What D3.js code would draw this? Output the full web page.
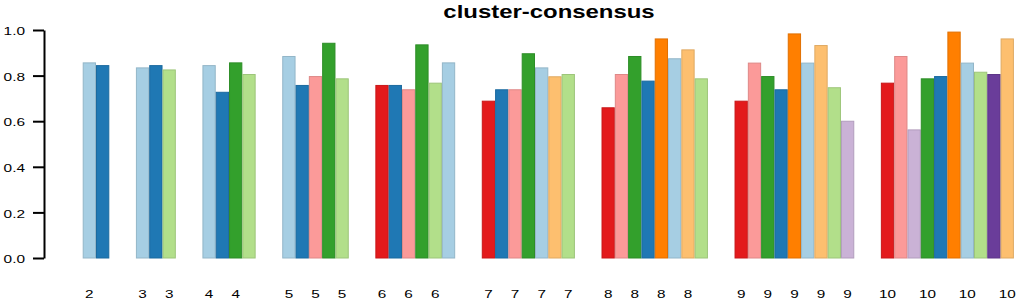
<!DOCTYPE html>
<html>
<head>
<meta charset="utf-8">
<script src="https://cdn.jsdelivr.net/npm/d3@7"></script>
<style>
  body { margin: 0; background: #fff; }
  text { font-family: "Liberation Sans", Arial, sans-serif; }
</style>
</head>
<body>
<div id="chart"></div>
<script>
// number of clusters k, one group of bars per k
let ks = [2, 3, 4, 5, 6, 7, 8, 9, 10]

// consensus of each cluster
let consensus2 = [0.858, 0.846]
let consensus3 = [0.836, 0.846, 0.827]
let consensus4 = [0.846, 0.729, 0.858, 0.807]
let consensus5 = [0.886, 0.759, 0.798, 0.944, 0.788]
let consensus6 = [0.759, 0.759, 0.740, 0.937, 0.769, 0.858]
let consensus7 = [0.690, 0.740, 0.740, 0.898, 0.836, 0.797, 0.807]
let consensus8 = [0.661, 0.807, 0.886, 0.778, 0.963, 0.876, 0.915, 0.788]
let consensus9 = [0.690, 0.857, 0.798, 0.740, 0.985, 0.857, 0.934, 0.749, 0.602]
let consensus10 = [0.769, 0.886, 0.564, 0.788, 0.798, 0.993, 0.857, 0.817, 0.807, 0.963]

// colour name of each cluster bar
let colors2 = ["lblue", "blue"]
let colors3 = ["lblue", "blue", "lgreen"]
let colors4 = ["lblue", "blue", "green", "lgreen"]
let colors5 = ["lblue", "blue", "pink", "green", "lgreen"]
let colors6 = ["red", "blue", "pink", "green", "lgreen", "lblue"]
let colors7 = ["red", "blue", "pink", "green", "lblue", "lorange", "lgreen"]
let colors8 = ["red", "pink", "green", "blue", "orange", "lblue", "lorange", "lgreen"]
let colors9 = ["red", "pink", "green", "blue", "orange", "lblue", "lorange", "lgreen", "lpurple"]
let colors10 = ["red", "pink", "lpurple", "green", "blue", "orange", "lblue", "lgreen", "purple", "lorange"]

let yTicks = [0, 0.2, 0.4, 0.6, 0.8, 1.0]

let allValues = [consensus2, consensus3, consensus4, consensus5, consensus6,
                 consensus7, consensus8, consensus9, consensus10]
let allColors = [colors2, colors3, colors4, colors5, colors6,
                 colors7, colors8, colors9, colors10]

let palette = d3.scaleOrdinal()
  .domain(["lblue", "blue", "lgreen", "green", "pink", "red", "lorange", "orange", "lpurple", "purple"])
  .range(["#a6cee3", "#1f78b4", "#b2df8a", "#33a02c", "#fb9a99", "#e31a1c", "#fdbf6f", "#ff7f00", "#cab2d6", "#6a3d9a"])

let width = 1021, height = 305
let stretch = 1.33  // the picture is wider than tall, text is stretched too

// flatten into bars, two empty bar slots before each group (like R barplot space)
let bars = []
let pos = 0
ks.forEach(function(k, gi) {
  pos += 2
  allValues[gi].forEach(function(v, i) {
    bars.push({k: k, value: v, color: allColors[gi][i], u: pos})
    pos += 1
  })
})

let svg = d3.select("#chart").append("svg")
  .attr("width", width)
  .attr("height", height)
  .style("background-color", "#FFFFFF")

let x = d3.scaleLinear().domain([0, pos]).range([56.1, 1013.9])
let y = d3.scaleLinear().domain([0, 1]).range([258, 30])
let barW = x(1) - x(0)

// bars
svg.append("g")
  .selectAll("rect")
  .data(bars)
  .enter().append("rect")
    .attr("x", function(d) { return x(d.u) + 0.5 })
    .attr("y", function(d) { return y(d.value) + 0.5 })
    .attr("width", barW - 1)
    .attr("height", function(d) { return y(0) - y(d.value) - 0.5 })
    .attr("fill", function(d) { return palette(d.color) })
    .attr("stroke", function(d) { return d3.color(palette(d.color)).darker(0.35) })
    .attr("stroke-width", 1)

// y axis
let yAxis = svg.append("g")
  .attr("transform", "translate(44,0)")
  .call(d3.axisLeft(y).tickValues(yTicks).tickSize(11).tickSizeOuter(0)
    .tickFormat(d3.format(".1f")))
yAxis.select(".domain").attr("stroke", "#000").attr("stroke-width", 2)
yAxis.selectAll(".tick line").attr("stroke", "#000").attr("stroke-width", 2)
yAxis.selectAll(".tick text")
  .attr("x", -19 / stretch)
  .attr("dy", "0.4em")
  .attr("transform", "scale(" + stretch + ",1)")
  .attr("fill", "#000")
  .style("font-size", "11.6px")

// x labels under bars, skipping the ones that would overlap (as R does)
let lastRight = -Infinity
let labelGap = 15
let xLabels = svg.append("g")
bars.forEach(function(d) {
  let cx = x(d.u + 0.5)
  let t = xLabels.append("text")
    .attr("text-anchor", "middle")
    .attr("transform", "translate(" + cx + ",298) scale(" + stretch + ",1)")
    .style("font-size", "11.5px")
    .attr("fill", "#000")
    .text(d.k)
  let w = t.node().getComputedTextLength() * stretch
  if (cx - w / 2 < lastRight + labelGap) {
    t.remove()
  } else {
    lastRight = cx + w / 2
  }
})

// title
svg.append("text")
  .attr("text-anchor", "middle")
  .attr("transform", "translate(549,18) scale(" + stretch + ",1)")
  .style("font-size", "18px")
  .style("font-weight", "bold")
  .attr("fill", "#000")
  .text("cluster-consensus")
</script>
</body>
</html>
